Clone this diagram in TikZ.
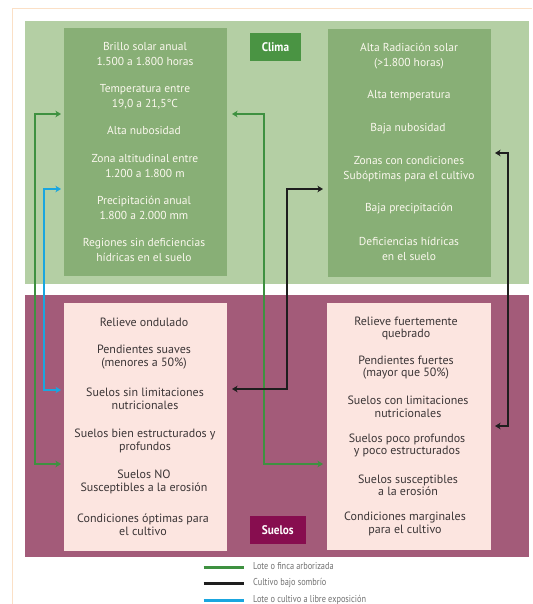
\documentclass[tikz,border=0pt]{standalone}
\usepackage{fontspec}
\setmainfont{PT Sans}
\newfontfamily\legendfont[FakeStretch=0.83]{PT Sans}
\newfontfamily\tagfont[FakeStretch=0.9]{PT Sans}
\usetikzlibrary{arrows.meta}

\definecolor{framecol}{HTML}{FBE0C6}
\definecolor{panelgreen}{HTML}{B4CFA4}
\definecolor{boxgreen}{HTML}{88AF76}
\definecolor{taggreen}{HTML}{4A9443}
\definecolor{panelpurple}{HTML}{A35B79}
\definecolor{boxpink}{HTML}{FCE5E0}
\definecolor{tagpurple}{HTML}{870D4F}
\definecolor{linegreen}{HTML}{3E9140}
\definecolor{lineblue}{HTML}{1AA6DF}
\definecolor{lineblack}{HTML}{1E1E1E}
\definecolor{softwhite}{HTML}{FBF8EE}
\definecolor{darktext}{HTML}{3B3536}
\definecolor{legendtext}{HTML}{707070}

\begin{document}
\begin{tikzpicture}[x=1pt,y=-1pt,
  block/.style={inner sep=0pt,outer sep=0pt,rectangle},
  climaitem/.style={align=center,text=softwhite,inner sep=0pt,
    font=\fontsize{11.5}{15}\selectfont},
  sueloitem/.style={align=center,text=darktext,inner sep=0pt,
    font=\fontsize{12}{12.2}\selectfont},
  tag/.style={block,text=white,font=\tagfont\bfseries\fontsize{12.5}{14}\selectfont},
  link/.style={line width=2pt,{Stealth[length=5.5pt,width=6.5pt,inset=1.5pt]}-{Stealth[length=5.5pt,width=6.5pt,inset=1.5pt]}},
  keyline/.style={line width=3pt},
  keytext/.style={anchor=west,inner sep=0pt,text=legendtext,
    font=\legendfont\fontsize{10}{11}\selectfont}]
\useasboundingbox (0,0) rectangle (532,604);

% page frame
\draw[framecol,line width=1pt] (12,604) -- (12,9) -- (532,9);

% panels
\node[block,fill=panelgreen,minimum width=504pt,minimum height=263pt] (climapanel) at (277,152.5) {};
\node[block,fill=panelpurple,minimum width=504pt,minimum height=262pt] (suelopanel) at (277,426) {};

% climate boxes
\node[block,fill=boxgreen,minimum width=163.5pt,minimum height=247.5pt] (cleft) at (145.25,152.25) {};
\node[block,fill=boxgreen,minimum width=163.5pt,minimum height=248pt] (cright) at (409.25,153) {};

% soil boxes
\node[block,fill=boxpink,minimum width=163.5pt,minimum height=248pt] (sleft) at (145.25,427) {};
\node[block,fill=boxpink,minimum width=164pt,minimum height=247pt] (sright) at (409,426.5) {};

% tags
\node[tag,fill=taggreen,minimum width=51pt,minimum height=28pt] (clima) at (275.5,47) {Clima};
\node[tag,fill=tagpurple,minimum width=56.5pt,minimum height=28pt] (suelos) at (277.75,530) {Suelos};

% climate, left
\node[climaitem] (cl1) at (145,54.5) {Brillo solar anual\\1.500 a 1.800 horas};
\node[climaitem] (cl2) at (145,96.5) {Temperatura entre\\19,0 a 21,5°C};
\node[climaitem] (cl3) at (144,130) {Alta nubosidad};
\node[climaitem] (cl4) at (145,166) {Zona altitudinal entre\\1.200 a 1.800 m};
\node[climaitem] (cl5) at (144,207.5) {Precipitación anual\\1.800 a 2.000 mm};
\node[climaitem] (cl6) at (144,249.5) {Regiones sin deficiencias\\hídricas en el suelo};

% climate, right
\node[climaitem] (cr1) at (409,56.5) {Alta Radiación solar\\(>1.800 horas)};
\node[climaitem] (cr2) at (409,96) {Alta temperatura};
\node[climaitem] (cr3) at (408,129) {Baja nubosidad};
\node[climaitem] (cr4) at (409,169.5) {Zonas con condiciones\\Subóptimas para el cultivo};
\node[climaitem] (cr5) at (409,209) {Baja precipitación};
\node[climaitem] (cr6) at (409,248.5) {Deficiencias hídricas\\en el suelo};

% soils, left
\node[sueloitem] (sl1) at (144,322.3) {Relieve ondulado};
\node[sueloitem] (sl2) at (144,357) {Pendientes suaves\\(menores a 50\%)};
\node[sueloitem] (sl3) at (145,398.7) {Suelos sin limitaciones\\nutricionales};
\node[sueloitem] (sl4) at (145,441) {Suelos bien estructurados y\\profundos};
\node[sueloitem] (sl5) at (144,482) {Suelos NO\\Susceptibles a la erosión};
\node[sueloitem] (sl6) at (143,524.7) {Condiciones óptimas para\\el cultivo};

% soils, right
\node[sueloitem] (sr1) at (406,328.5) {Relieve fuertemente\\quebrado};
\node[sueloitem] (sr2) at (406,367.7) {Pendientes fuertes\\(mayor que 50\%)};
\node[sueloitem] (sr3) at (408,406.7) {Suelos con limitaciones\\nutricionales};
\node[sueloitem] (sr4) at (407,445.7) {Suelos poco profundos\\y poco estructurados};
\node[sueloitem] (sr5) at (408,485) {Suelos susceptibles\\a la erosión};
\node[sueloitem] (sr6) at (405,524) {Condiciones marginales\\para el cultivo};

% connector ends
\coordinate (g1a) at (61,114);   \coordinate (g1b) at (61,464);
\coordinate (b1a) at (61,189);   \coordinate (b1b) at (61,390);
\coordinate (g2a) at (232,114);  \coordinate (g2b) at (323,464);
\coordinate (k1a) at (323,189);  \coordinate (k1b) at (232,389);
\coordinate (k2a) at (495,153);  \coordinate (k2b) at (495,426);

% connectors
\draw[link,linegreen] (g1a) -- (35,114) |- (g1b);
\draw[link,lineblue]  (b1a) -- (44,189) |- (b1b);
\draw[link,linegreen] (g2a) -- (264,114) |- (g2b);
\draw[link,lineblack] (k1a) -- (287,189) |- (k1b);
\draw[link,lineblack] (k2a) -- (508,153) |- (k2b);

% legend
\coordinate (kg1) at (203.5,567); \coordinate (kg2) at (244,567);
\coordinate (kk1) at (203.5,583.5); \coordinate (kk2) at (244,583.5);
\coordinate (kb1) at (203.5,600.5); \coordinate (kb2) at (244,600.5);
\draw[keyline,linegreen] (kg1) -- (kg2);
\draw[keyline,lineblack] (kk1) -- (kk2);
\draw[keyline,lineblue]  (kb1) -- (kb2);
\node[keytext] (kgt) at (253,566.5) {Lote o finca arborizada};
\node[keytext] (kkt) at (253,583) {Cultivo bajo sombrío};
\node[keytext] (kbt) at (253,600) {Lote o cultivo a libre exposición};
\end{tikzpicture}
\end{document}
